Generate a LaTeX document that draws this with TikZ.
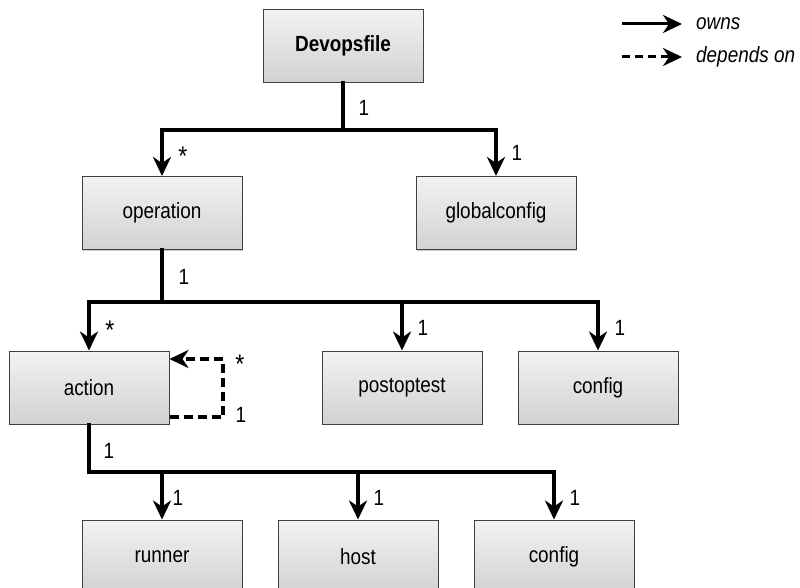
\documentclass[tikz,border=0pt]{standalone}
\usepackage{fontspec}
\setmainfont{Liberation Sans}[FakeStretch=0.86]
\usetikzlibrary{arrows.meta,shadows}
\definecolor{boxtop}{HTML}{F2F2F2}
\definecolor{boxbot}{HTML}{D2D2D2}
\definecolor{boxline}{HTML}{404040}
\tikzset{
  entity/.style={draw=boxline, line width=1pt, top color=boxtop, bottom color=boxbot,
    minimum width=160pt, minimum height=73pt, inner sep=0pt,
    font=\fontsize{22}{26}\selectfont,
    drop shadow={shadow xshift=1pt, shadow yshift=-1pt, opacity=0.35, fill=black!60}},
  link/.style={line width=3.5pt, line cap=rect},
  owns/.style={line width=3.5pt, -{Stealth[length=19pt,width=18pt,inset=6pt]}},
  dep/.style={line width=3.2pt, dash pattern=on 9pt off 5pt, -{Stealth[length=19pt,width=18pt,inset=6pt]}},
  mult/.style={font=\fontsize{22}{26}\selectfont, inner sep=0pt},
  star/.style={font=\fontsize{27}{30}\selectfont, inner sep=0pt},
  legtext/.style={font=\fontsize{22}{26}\selectfont\itshape, anchor=west, inner sep=0pt}
}
\begin{document}
\begin{tikzpicture}[x=1pt,y=-1pt]
\useasboundingbox (0,0) rectangle (800,588);
% nodes
\node[entity] (dev) at (343,46) {\textbf{Devopsfile}};
\node[entity] (op) at (162,213) {operation};
\node[entity] (gc) at (496,213) {globalconfig};
\node[entity] (act) at (89,387.5) {action};
\node[entity] (pot) at (402,387.5) {postoptest};
\node[entity] (cfg1) at (598,387.5) {config};
\node[entity] (run) at (162,556.5) {runner};
\node[entity] (host) at (358,556.5) {host};
\node[entity] (cfg2) at (554,556.5) {config};
% junction coordinates
\coordinate (j1) at (343,130);
\coordinate (j1l) at (162,130);
\coordinate (j1r) at (496,130);
\coordinate (j2) at (162,302);
\coordinate (j2l) at (89,302);
\coordinate (j2m) at (402,302);
\coordinate (j2r) at (598,302);
\coordinate (j3) at (89,472);
\coordinate (j3a) at (162,472);
\coordinate (j3b) at (358,472);
\coordinate (j3c) at (554,472);
% top level
\draw[link] (dev.south) -- (j1);
\draw[link] (j1l) -- (j1r);
\draw[owns] (j1l) -- (op.north);
\draw[owns] (j1r) -- (gc.north);
% middle level
\draw[link] (op.south) -- (j2);
\draw[link] (j2l) -- (j2r);
\draw[owns] (j2l) -- (act.north);
\draw[owns] (j2m) -- (pot.north);
\draw[owns] (j2r) -- (cfg1.north);
% self dependency
\coordinate (lp1) at (223,417);
\coordinate (lp2) at (223,359);
\draw[dep] ([yshift=-29.5pt]act.east) -- (lp1) -- (lp2) -- ([yshift=28.5pt]act.east);
% bottom level
\draw[link] (act.south) -- (j3);
\draw[link] (j3) -- (j3c);
\draw[owns] (j3a) -- (run.north);
\draw[owns] (j3b) -- (host.north);
\draw[owns] (j3c) -- (cfg2.north);
% multiplicities
\node[mult] (m1) at (364,108) {1};
\node[star] (m2) at (183,156) {*};
\node[mult] (m3) at (517,153) {1};
\node[mult] (m4) at (184,277) {1};
\node[star] (m5) at (110,330) {*};
\node[mult] (m6) at (423,328) {1};
\node[mult] (m7) at (620,328) {1};
\node[star] (m8) at (240,364) {*};
\node[mult] (m9) at (241,415) {1};
\node[mult] (m10) at (109,451) {1};
\node[mult] (m11) at (178,498) {1};
\node[mult] (m12) at (379,498) {1};
\node[mult] (m13) at (575,498) {1};
% legend
\coordinate (la1) at (622,24);
\coordinate (la2) at (682,24);
\coordinate (lb1) at (622,57);
\coordinate (lb2) at (682,57);
\draw[owns, line width=3pt] (la1) -- (la2);
\draw[dep, line width=3pt, dash pattern=on 8pt off 5pt] (lb1) -- (lb2);
\node[legtext] (lo) at (696,24) {owns};
\node[legtext] (ld) at (696,57) {depends on};
\end{tikzpicture}
\end{document}
